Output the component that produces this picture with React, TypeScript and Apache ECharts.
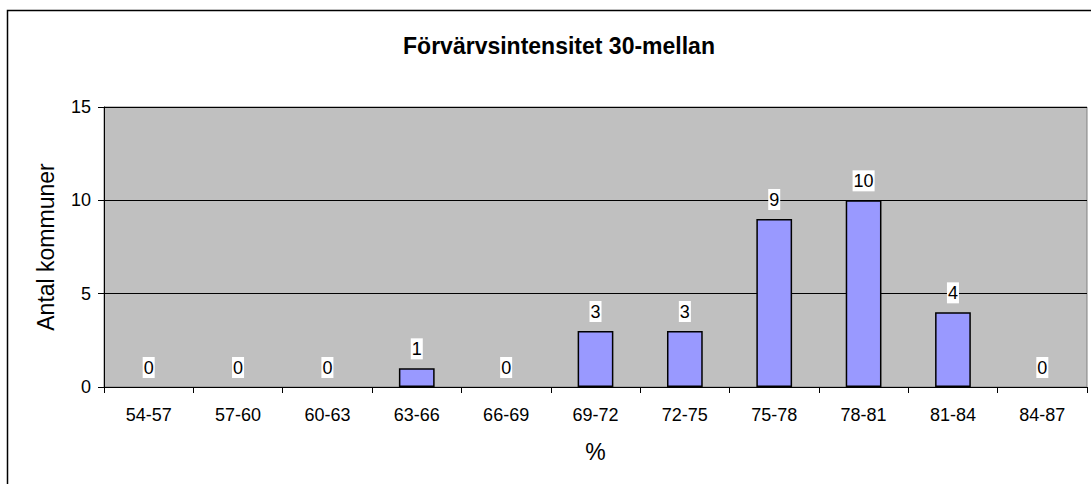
import React, { useEffect, useRef } from "react";
import * as echarts from "echarts";

const categories = ["54-57", "57-60", "60-63", "63-66", "66-69", "69-72", "72-75", "75-78", "78-81", "81-84", "84-87"];
const values = [0, 0, 0, 1, 0, 3, 3, 9, 10, 4, 0];
const yTicks = [0, 5, 10, 15];

export default function App() {
  const ref = useRef<HTMLDivElement>(null);
  useEffect(() => {
    const chart = echarts.init(ref.current!, null, { renderer: "svg" });
    const font = "'Liberation Sans', Arial, sans-serif";
    chart.setOption({
      animation: false,
      backgroundColor: "#ffffff",
      title: {
        text: "Förvärvsintensitet 30-mellan",
        left: 554,
        textAlign: "center",
        top: 29,
        textStyle: { fontFamily: font, fontSize: 23, fontWeight: "bold", color: "#000" },
      },
      graphic: [
        {
          type: "rect",
          shape: { x: 7.5, y: 10.5, width: 1200, height: 600 },
          style: { fill: "none", stroke: "#000", lineWidth: 1.5 },
          silent: true,
          z: 100,
        },
      ],
      grid: {
        left: 104,
        right: 4,
        top: 107,
        bottom: 97,
        show: true,
        backgroundColor: "#C0C0C0",
        borderColor: "#808080",
        borderWidth: 1,
      },
      xAxis: {
        type: "category",
        data: categories,
        name: "%",
        nameLocation: "middle",
        nameGap: 53,
        nameTextStyle: { fontFamily: font, fontSize: 23, color: "#000" },
        axisLine: { lineStyle: { color: "#000", width: 1 } },
        axisTick: { show: true, length: 6, lineStyle: { color: "#000" }, alignWithLabel: false },
        axisLabel: { fontFamily: font, fontSize: 18, color: "#000", margin: 19 },
      },
      yAxis: {
        type: "value",
        min: 0,
        max: 15,
        interval: 5,
        name: "Antal kommuner",
        nameLocation: "middle",
        nameGap: 47,
        nameRotate: 90,
        nameTextStyle: { fontFamily: font, fontSize: 23, color: "#000" },
        axisLine: { show: true, lineStyle: { color: "#000", width: 1 } },
        axisTick: { show: true, length: 6, lineStyle: { color: "#000" } },
        axisLabel: {
          fontFamily: font,
          fontSize: 18,
          color: "#000",
          margin: 13,
          formatter: (v: number) => (yTicks.includes(v) ? String(v) : ""),
        },
        splitLine: { show: true, lineStyle: { color: "#000", width: 1 } },
      },
      series: [
        {
          type: "bar",
          data: values.map((v) => ({
            value: v,
            itemStyle: v === 0 ? { borderWidth: 0, color: "transparent" } : undefined,
          })),
          barWidth: "40%",
          itemStyle: { color: "#9999FF", borderColor: "#000", borderWidth: 1.5 },
          label: {
            show: true,
            position: "top",
            distance: 9,
            fontFamily: font,
            fontSize: 18,
            lineHeight: 20,
            color: "#000",
            backgroundColor: "#fff",
            padding: [1, 1, 0, 1],
          },
        },
      ],
    });
    return () => chart.dispose();
  }, []);
  return <div ref={ref} style={{ position: "absolute", left: 0, top: 0, width: 1091, height: 484 }} />;
}
